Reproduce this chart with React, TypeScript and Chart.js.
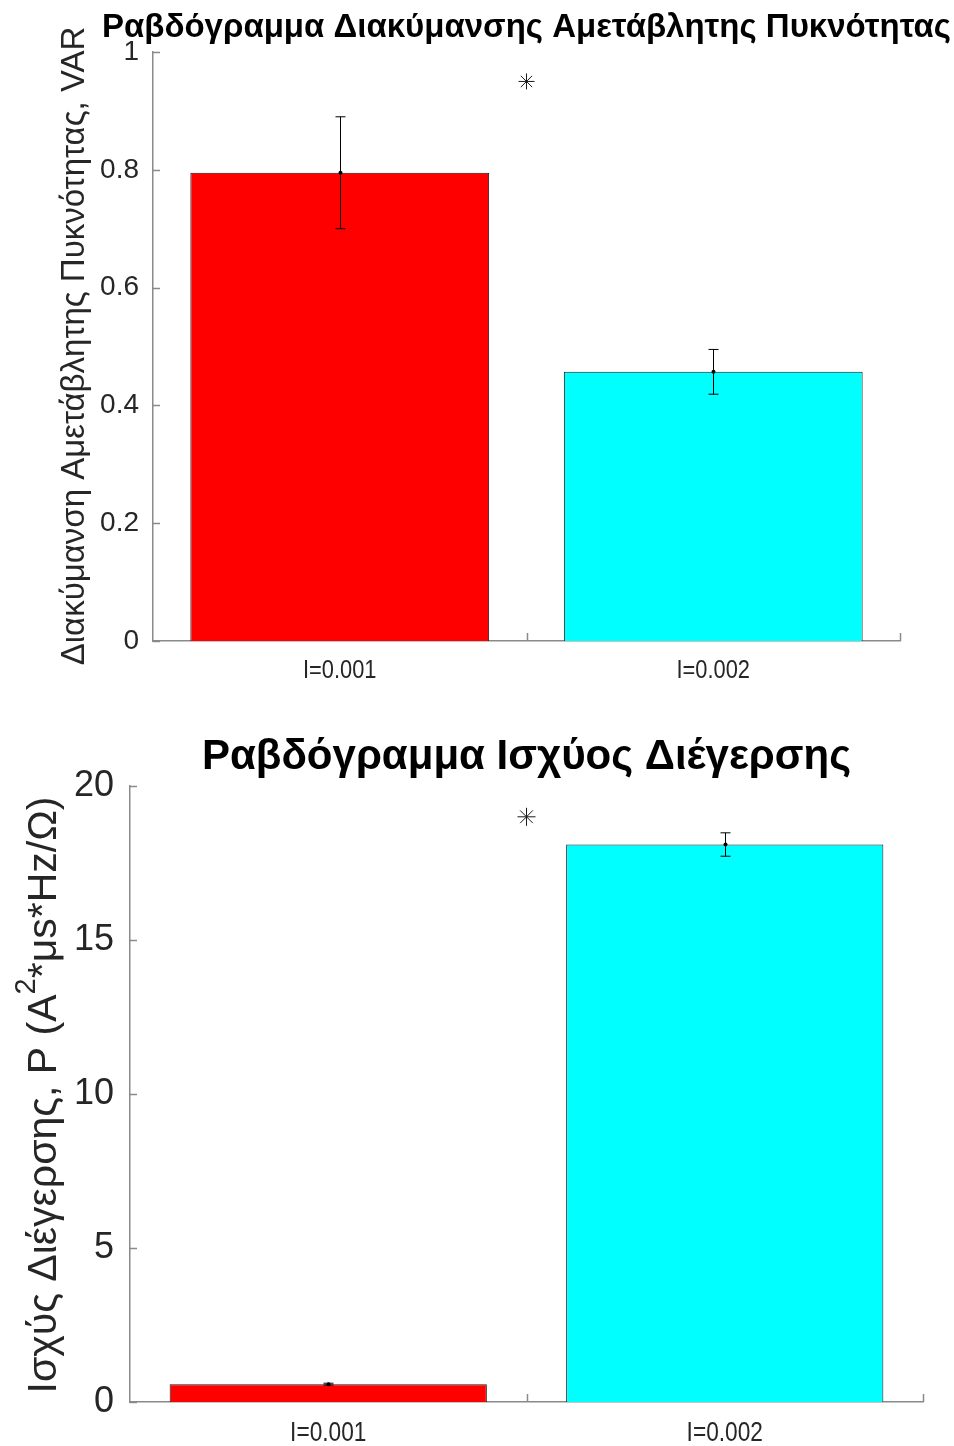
import React, { useEffect, useRef } from "react";
import { Chart, registerables } from "chart.js";

Chart.register(...registerables);

// ---- data ----
const categories = ["I=0.001", "I=0.002"];
const barColors = ["#FF0000", "#00FFFF"];

const varTitle = "Ραβδόγραμμα Διακύμανσης Αμετάβλητης Πυκνότητας";
const varYLabel = "Διακύμανση Αμετάβλητης Πυκνότητας, VAR";
const varMeans = [0.795, 0.457];
const varErrors = [0.095, 0.038];
const varStarValue = 0.95;
const varMin = 0;
const varMax = 1;
const varStep = 0.2;

const powTitle = "Ραβδόγραμμα Ισχύος Διέγερσης";
const powYLabelParts = ["Ισχύς Διέγερσης, P (A", "2", "*μs*Hz/Ω)"];
const powMeans = [0.58, 18.1];
const powErrors = [0.03, 0.38];
const powStarValue = 19.0;
const powMin = 0;
const powMax = 20;
const powStep = 5;

const AXIS_COLOR = "#8a8a8a";
const TEXT_COLOR = "#262626";

type Seg = { text: string; sup?: boolean };

type Cfg = {
  width: number;
  height: number;
  title: string;
  titleFont: string;
  titleY: number;
  ySegs: Seg[];
  yLabelSize: number;
  yLabelX: number;
  yLabelY: number;
  means: number[];
  errors: number[];
  star: number;
  starR: number;
  min: number;
  max: number;
  step: number;
  tickFont: number;
  xFont: number;
  xLabelY: number;
  yPad: number;
  padTop: number;
  padRight: number;
  yWidth: number;
  xHeight: number;
  capW: number;
};

function makeDecor(cfg: Cfg) {
  return {
    id: "decor",
    afterDraw(chart: any) {
      const ctx: CanvasRenderingContext2D = chart.ctx;
      const xs = chart.scales.x;
      const ys = chart.scales.y;
      const area = chart.chartArea;
      ctx.save();
      // inward ticks
      ctx.strokeStyle = AXIS_COLOR;
      ctx.lineWidth = 1.5;
      ctx.beginPath();
      ys.ticks.forEach((t: any) => {
        const py = Math.round(ys.getPixelForValue(t.value)) + 0.5;
        ctx.moveTo(area.left, py);
        ctx.lineTo(area.left + 7, py);
      });
      const n = categories.length;
      for (let i = 1; i <= n; i++) {
        const px =
          i < n
            ? (xs.getPixelForValue(i - 1) + xs.getPixelForValue(i)) / 2
            : area.right;
        ctx.moveTo(Math.round(px) + 0.5, area.bottom);
        ctx.lineTo(Math.round(px) + 0.5, area.bottom - 8);
      }
      ctx.stroke();

      // category labels (slightly condensed, like the reference)
      ctx.fillStyle = TEXT_COLOR;
      ctx.font = `${cfg.xFont}px "Liberation Sans", Arial, sans-serif`;
      ctx.textAlign = "center";
      ctx.textBaseline = "middle";
      categories.forEach((c, i) => {
        const px = xs.getPixelForValue(i);
        ctx.save();
        ctx.translate(px, area.bottom + cfg.xLabelY);
        ctx.scale(0.84, 1);
        ctx.fillText(c, 0, 0);
        ctx.restore();
      });

      // error bars
      ctx.strokeStyle = "#000";
      ctx.fillStyle = "#000";
      ctx.lineWidth = 1;
      cfg.means.forEach((m, i) => {
        const e = cfg.errors[i];
        const px = Math.round(xs.getPixelForValue(i)) + 0.5;
        const y1 = ys.getPixelForValue(m + e);
        const y0 = ys.getPixelForValue(m - e);
        const ym = ys.getPixelForValue(m);
        ctx.beginPath();
        ctx.moveTo(px, y1);
        ctx.lineTo(px, y0);
        ctx.moveTo(px - cfg.capW, y1);
        ctx.lineTo(px + cfg.capW, y1);
        ctx.moveTo(px - cfg.capW, y0);
        ctx.lineTo(px + cfg.capW, y0);
        ctx.stroke();
        ctx.beginPath();
        ctx.arc(px, ym, 2, 0, Math.PI * 2);
        ctx.fill();
      });

      // significance asterisk
      const sx = (xs.getPixelForValue(0) + xs.getPixelForValue(1)) / 2;
      const sy = ys.getPixelForValue(cfg.star);
      const r = cfg.starR;
      ctx.strokeStyle = "#1a1a1a";
      ctx.lineWidth = 1;
      ctx.beginPath();
      for (let k = 0; k < 4; k++) {
        const a = (k * Math.PI) / 4;
        ctx.moveTo(sx - r * Math.cos(a), sy - r * Math.sin(a));
        ctx.lineTo(sx + r * Math.cos(a), sy + r * Math.sin(a));
      }
      ctx.stroke();

      // title
      ctx.fillStyle = "#000";
      ctx.font = cfg.titleFont;
      ctx.textAlign = "center";
      ctx.textBaseline = "middle";
      ctx.fillText(cfg.title, (area.left + area.right) / 2, cfg.titleY);

      // y label (rotated, with superscript support)
      ctx.save();
      ctx.translate(cfg.yLabelX, cfg.yLabelY);
      ctx.rotate(-Math.PI / 2);
      ctx.fillStyle = TEXT_COLOR;
      ctx.textAlign = "left";
      ctx.textBaseline = "middle";
      const normal = `${cfg.yLabelSize}px "Liberation Sans", Arial, sans-serif`;
      const sup = `${Math.round(cfg.yLabelSize * 0.7)}px "Liberation Sans", Arial, sans-serif`;
      let total = 0;
      cfg.ySegs.forEach((s) => {
        ctx.font = s.sup ? sup : normal;
        total += ctx.measureText(s.text).width;
      });
      let cx = -total / 2;
      cfg.ySegs.forEach((s) => {
        ctx.font = s.sup ? sup : normal;
        ctx.fillText(s.text, cx, s.sup ? -cfg.yLabelSize * 0.45 : 0);
        cx += ctx.measureText(s.text).width;
      });
      ctx.restore();

      ctx.restore();
    },
  };
}

function BarPanel({ cfg }: { cfg: Cfg }) {
  const ref = useRef<HTMLCanvasElement>(null);
  useEffect(() => {
    if (!ref.current) return;
    const chart = new Chart(ref.current, {
      type: "bar",
      data: {
        labels: categories,
        datasets: [
          {
            data: cfg.means,
            backgroundColor: barColors,
            borderColor: "#1a1a1a",
            borderWidth: 1,
            barPercentage: 0.8,
            categoryPercentage: 1,
          },
        ],
      },
      options: {
        responsive: false,
        animation: false,
        devicePixelRatio: 1,
        layout: {
          padding: { top: cfg.padTop, right: cfg.padRight, left: 0, bottom: 0 },
        },
        plugins: {
          legend: { display: false },
          tooltip: { enabled: false },
          title: { display: false },
        },
        scales: {
          x: {
            grid: { display: false, drawTicks: false },
            border: { display: true, color: AXIS_COLOR, width: 1.5 },
            ticks: { display: false },
            afterFit: (s: any) => {
              s.height = cfg.xHeight;
            },
          },
          y: {
            min: cfg.min,
            max: cfg.max,
            grid: { display: false, drawTicks: false },
            border: { display: true, color: AXIS_COLOR, width: 1.5 },
            ticks: {
              stepSize: cfg.step,
              color: TEXT_COLOR,
              padding: cfg.yPad,
              font: { family: '"Liberation Sans", Arial', size: cfg.tickFont },
              callback: (v: any) => String(Number(Number(v).toFixed(3))),
            },
            afterFit: (s: any) => {
              s.width = cfg.yWidth;
            },
          },
        },
      },
      plugins: [makeDecor(cfg)],
    } as any);
    return () => chart.destroy();
  }, [cfg]);
  return (
    <canvas
      ref={ref}
      width={cfg.width}
      height={cfg.height}
      style={{ display: "block", width: cfg.width, height: cfg.height }}
    />
  );
}

const topCfg: Cfg = {
  width: 954,
  height: 700,
  title: varTitle,
  titleFont: 'bold 33px "Liberation Sans", Arial, sans-serif',
  titleY: 28,
  ySegs: [{ text: varYLabel }],
  yLabelSize: 33,
  yLabelX: 75,
  yLabelY: 346,
  means: varMeans,
  errors: varErrors,
  star: varStarValue,
  starR: 8,
  min: varMin,
  max: varMax,
  step: varStep,
  tickFont: 28,
  xFont: 26,
  xLabelY: 30,
  yPad: 14,
  padTop: 52,
  padRight: 54,
  yWidth: 153,
  xHeight: 59,
  capW: 5,
};

const botCfg: Cfg = {
  width: 954,
  height: 746,
  title: powTitle,
  titleFont: 'bold 42px "Liberation Sans", Arial, sans-serif',
  titleY: 57,
  ySegs: [
    { text: powYLabelParts[0] },
    { text: powYLabelParts[1], sup: true },
    { text: powYLabelParts[2] },
  ],
  yLabelSize: 41,
  yLabelX: 45,
  yLabelY: 395,
  means: powMeans,
  errors: powErrors,
  star: powStarValue,
  starR: 9,
  min: powMin,
  max: powMax,
  step: powStep,
  tickFont: 36,
  xFont: 27,
  xLabelY: 32,
  yPad: 16,
  padTop: 86,
  padRight: 31,
  yWidth: 130,
  xHeight: 44,
  capW: 5,
};

export default function App() {
  return (
    <div style={{ position: "absolute", left: 0, top: 0, width: 954, height: 1446, background: "#fff" }}>
      <BarPanel cfg={topCfg} />
      <BarPanel cfg={botCfg} />
    </div>
  );
}
